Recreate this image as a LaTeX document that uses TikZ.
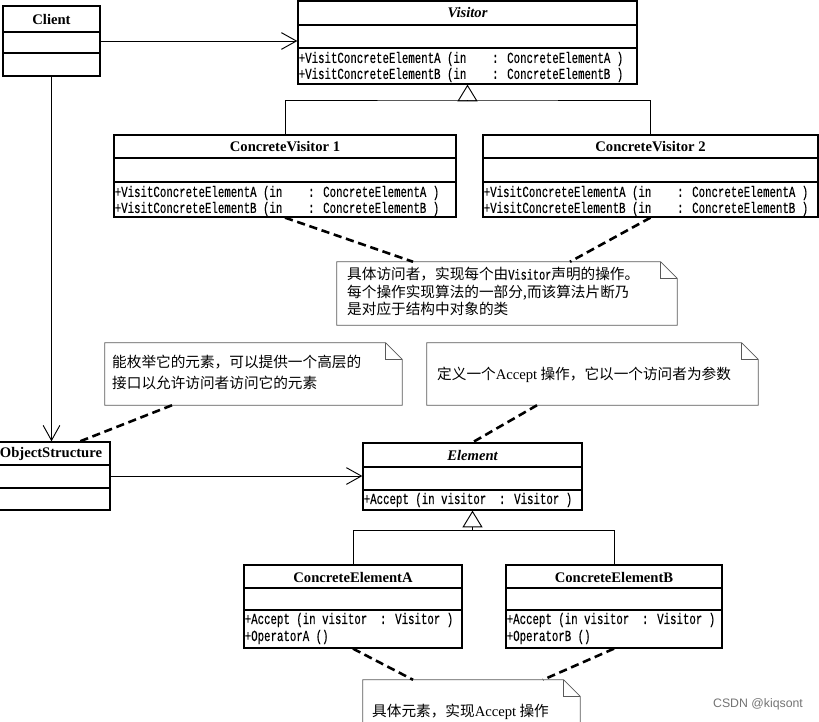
\documentclass[tikz,border=0pt]{standalone}
\usepackage{fontspec}
\setmainfont{Liberation Serif}
\newfontfamily\cjk{Noto Sans CJK SC}
\newfontfamily\opfont[FakeStretch=0.7, FakeBold=0.3]{Liberation Mono}
\newfontfamily\wmfont{Liberation Sans}
\usetikzlibrary{arrows.meta, positioning, calc, fit}
\tikzset{
  cls/.style={draw, line width=1.1pt, inner sep=0pt},
  cname/.style={inner sep=0pt, font=\fontsize{12.5}{14}\selectfont\bfseries},
  aname/.style={cname, font=\fontsize{12.5}{14}\selectfont\bfseries\itshape},
  op/.style={anchor=west, inner sep=0pt, xshift=1pt, font=\fontsize{13.1}{14}\opfont},
  note/.style={inner sep=0pt},
  notetxt/.style={inner sep=0pt, align=left, font=\fontsize{12.5}{15}\cjk},
  notel/.style={draw=black!65, line width=0.6pt},
  assoc/.style={-{Straight Barb[length=4.5mm,width=5mm]}, line width=0.8pt},
  gen/.style={-{Triangle[open,length=5mm,width=6mm]}, line width=0.8pt},
  link/.style={line width=2.2pt, dash pattern=on 7pt off 4pt}
}
\begin{document}
\begin{tikzpicture}[x=0.03cm, y=-0.03cm]
  \useasboundingbox (0,0) rectangle (819,721);
  \clip (0,0) rectangle (819,721);
  % class boxes
  \node[cls, fit={(3,6) (100,76)}] (client) {};
  \node[cls, fit={(298,1) (637,84)}] (visitor) {};
  \node[cls, fit={(114,135) (456,217)}] (cv1) {};
  \node[cls, fit={(483,135) (818,217)}] (cv2) {};
  \node[cls, fit={(-8,442) (110,510)}] (objstr) {};
  \node[cls, fit={(363,443) (582,510)}] (element) {};
  \node[cls, fit={(244,565) (462,648)}] (cea) {};
  \node[cls, fit={(506,565) (722,648)}] (ceb) {};
  \foreach \c/\ya/\yb in {client/32/53, visitor/25/48, cv1/158/182, cv2/158/182,
      objstr/465/488, element/467/490, cea/588/610, ceb/588/610}
    \draw[line width=1.1pt] (\c.west |- 0,\ya) -- (\c.east |- 0,\ya)
      (\c.west |- 0,\yb) -- (\c.east |- 0,\yb);
  % names
  \node[cname] (clientn) at (client.north |- 0,19) {Client};
  \node[aname] (visitorn) at (visitor.north |- 0,13) {Visitor};
  \node[cname] (cv1n) at (cv1.north |- 0,147) {ConcreteVisitor 1};
  \node[cname] (cv2n) at (cv2.north |- 0,147) {ConcreteVisitor 2};
  \node[cname] (objstrn) at (objstr.north |- 0,454) {ObjectStructure};
  \node[aname] (elementn) at (element.north |- 0,455) {Element};
  \node[cname] (cean) at (cea.north |- 0,577) {ConcreteElementA};
  \node[cname] (cebn) at (ceb.north |- 0,577) {ConcreteElementB};
  % operations
  \node[op] (visitoro1) at (visitor.west |- 0,59) {+VisitConcreteElementA (in~~~~: ConcreteElementA )};
  \node[op] (visitoro2) at (visitor.west |- 0,75) {+VisitConcreteElementB (in~~~~: ConcreteElementB )};
  \node[op] (cv1o1) at (cv1.west |- 0,193) {+VisitConcreteElementA (in~~~~: ConcreteElementA )};
  \node[op] (cv1o2) at (cv1.west |- 0,209) {+VisitConcreteElementB (in~~~~: ConcreteElementB )};
  \node[op] (cv2o1) at (cv2.west |- 0,193) {+VisitConcreteElementA (in~~~~: ConcreteElementA )};
  \node[op] (cv2o2) at (cv2.west |- 0,209) {+VisitConcreteElementB (in~~~~: ConcreteElementB )};
  \node[op] (elemento1) at (element.west |- 0,500) {+Accept (in visitor~~: Visitor )};
  \node[op] (ceao1) at (cea.west |- 0,620) {+Accept (in visitor~~: Visitor )};
  \node[op] (ceao2) at (cea.west |- 0,637) {+OperatorA ()};
  \node[op] (cebo1) at (ceb.west |- 0,620) {+Accept (in visitor~~: Visitor )};
  \node[op] (cebo2) at (ceb.west |- 0,637) {+OperatorB ()};
  % notes
  \node[note, fit={(337,262) (677,325)}] (n1) {};
  \node[note, fit={(105,343) (402,405)}] (n2) {};
  \node[note, fit={(427,343) (758,405)}] (n3) {};
  \node[note, fit={(363,680) (580,740)}] (n4) {};
  \foreach \n in {n1,n2,n3,n4}
    \draw[notel] (\n.north west) -- ([xshift=-5mm]\n.north east)
      -- ([yshift=-5mm]\n.north east) -- (\n.south east) -- (\n.south west) -- cycle
      ([xshift=-5mm]\n.north east) |- ([yshift=-5mm]\n.north east);
  \node[notetxt, anchor=north west] (n1t) at (347,267)
    {具体访问者，实现每个由{\opfont Visitor}声明的操作。\\每个操作实现算法的一部分,而该算法片断乃\\是对应于结构中对象的类};
  \node[notetxt, anchor=north west, font=\fontsize{12.5}{18}\cjk] (n2t) at (112,355)
    {能枚举它的元素，可以提供一个高层的\\接口以允许访问者访问它的元素};
  \node[notetxt, anchor=west] (n3t) at (437,375) {定义一个{\rmfamily Accept} 操作，它以一个访问者为参数};
  \node[notetxt, anchor=west] (n4t) at (372,712) {具体元素，实现{\rmfamily Accept} 操作};
  % connectors
  \draw[assoc] (client.east) -- (client.east -| visitor.west);
  \draw[assoc] (client.south) -- (client.south |- objstr.north);
  \draw[assoc] (objstr.east) -- (objstr.east -| element.west);
  \coordinate (vbar) at (visitor.south |- 0,100);
  \draw[gen] (vbar) -- (visitor.south);
  \draw[line width=0.8pt] (cv1.north) |- (vbar) -| (cv2.north);
  \coordinate (ebar) at (element.south |- 0,530);
  \draw[gen] (ebar) -- (element.south);
  \draw[line width=0.8pt] (cea.north) |- (ebar) -| (ceb.north);
  % note links
  \draw[link] (cv1.south) -- (n1.north -| 413,0);
  \draw[link] (cv2.south) -- (n1.north -| 570,0);
  \draw[link] (n2.south -| 172,0) -- (objstr.north -| 80,0);
  \draw[link] (n3.south -| 537,0) -- (element.north);
  \draw[link] (cea.south) -- (n4.north -| 413,0);
  \draw[link] (ceb.south) -- (n4.north -| 543,0);
  \node[font=\fontsize{10.5}{12}\wmfont, text=black!55, inner sep=0pt] (wm) at (758,704) {CSDN @kiqsont};
\end{tikzpicture}
\end{document}
